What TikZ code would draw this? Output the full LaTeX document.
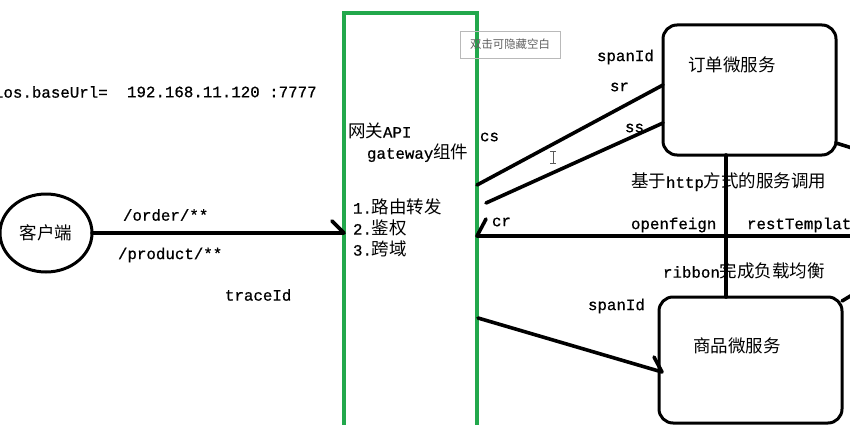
\documentclass[tikz,border=0pt]{standalone}
\usepackage{fontspec}
\setmainfont{Liberation Mono}[FakeBold=0.7]
\newfontfamily\cjk{Noto Sans CJK SC}
\usetikzlibrary{shapes.geometric,calc}
\definecolor{gwgreen}{RGB}{34,168,76}
\newcommand\zhtxt[1]{{\cjk\fontsize{17.5}{20}\selectfont #1}}
\begin{document}
\begin{tikzpicture}[x=1pt,y=-1pt,
  every node/.style={outer sep=0pt},
  lbl/.style={anchor=west,inner sep=0pt,font=\fontsize{15.8}{18}\selectfont},
  conn/.style={line width=3.6pt,line cap=round,line join=round},
  svcbox/.style={draw,rounded corners=14pt,line width=3pt,anchor=north west,inner sep=0pt}]
\useasboundingbox (0,0) rectangle (850,425);
\clip (0,0) rectangle (850,425);
% gateway
\node[draw=gwgreen,line width=4pt,minimum width=133pt,minimum height=440pt,anchor=north west,inner sep=0pt] (gw) at (344,13) {};
% client
\node[ellipse,draw,line width=3pt,minimum width=92pt,minimum height=78pt,inner sep=0pt] (client) at (46,233) {\zhtxt{客户端}};
% services
\node[svcbox,minimum width=173pt,minimum height=130pt] (order) at (663,25) {};
\node[svcbox,minimum width=183pt,minimum height=126pt] (product) at (659,297) {};
% tooltip
\node[draw=gray!55,line width=0.8pt,minimum width=100pt,minimum height=27pt,anchor=north west,inner sep=0pt,text=gray!75!black,font=\cjk\fontsize{11.4}{13}\selectfont] (tip) at (460,31) {双击可隐藏空白};
% labels
\node[lbl] (base) at (-6,92) {ios.baseUrl=};
\node[lbl] (ip) at (127,92) {192.168.11.120 :7777};
\node[lbl] (ord) at (123,215) {/order/**};
\node[lbl] (prod) at (118,255) {/product/**};
\node[lbl] (trace) at (225,295) {traceId};
\node[lbl] (gw1) at (348,131) {\zhtxt{网关}API};
\node[lbl] (gw2) at (367,153) {gateway\zhtxt{组件}};
\node[lbl] (f1) at (353,207) {1.\zhtxt{路由转发}};
\node[lbl] (f2) at (353,228) {2.\zhtxt{鉴权}};
\node[lbl] (f3) at (353,249) {3.\zhtxt{跨域}};
\node[lbl] (cs) at (480,137) {cs};
\node[lbl] (cr) at (492,222) {cr};
\node[lbl] (span1) at (597,57) {spanId};
\node[lbl] (sr) at (610,87) {sr};
\node[lbl] (ss) at (625,128) {ss};
\node[lbl] (ordt) at (688,65) {\zhtxt{订单微服务}};
\node[lbl] (http) at (631,182) {\zhtxt{基于}http\zhtxt{方式的服务调用}};
\node[lbl] (feign) at (631,225) {openfeign};
\node[lbl] (rest) at (747,225) {restTemplate};
\node[lbl] (rib) at (663,271) {ribbon\zhtxt{完成负载均衡}};
\node[lbl] (span2) at (588,306) {spanId};
\node[lbl] (prodt) at (693,346) {\zhtxt{商品微服务}};
% connectors
\coordinate (ssA) at (486,203);
\coordinate (crR) at (852,236);
\coordinate (oR) at (852,148);
\coordinate (pR) at (852,295);
\draw[conn] (client.east) -- (client.east -| gw.west) -- ++(-12,-12);
\draw[conn] ($(gw.north east)+(0,172)$) -- ($(order.north west)+(0,60)$);
\draw[conn] (ssA) -- ($(order.north west)+(0,98)$);
\draw[conn] (crR) -- (crR -| gw.east) -- ++(9,-17);
\draw[conn] ($(gw.north east)+(1,305)$) -- ($(product.north west)+(3,75)$) -- ++(-8,-15);
\draw[conn] ($(order.south west)+(63,0)$) -- ($(product.north west)+(67,0)$);
\draw[conn] ($(order.south east)+(0,-12)$) -- (oR);
\draw[conn] ($(product.north east)+(0,4)$) -- (pR);
% text cursor
\draw[gray!70!black,line width=0.8pt] (553,151) -- (553,163) (550,151) -- (556,151) (550,163) -- (556,163);
\end{tikzpicture}
\end{document}
